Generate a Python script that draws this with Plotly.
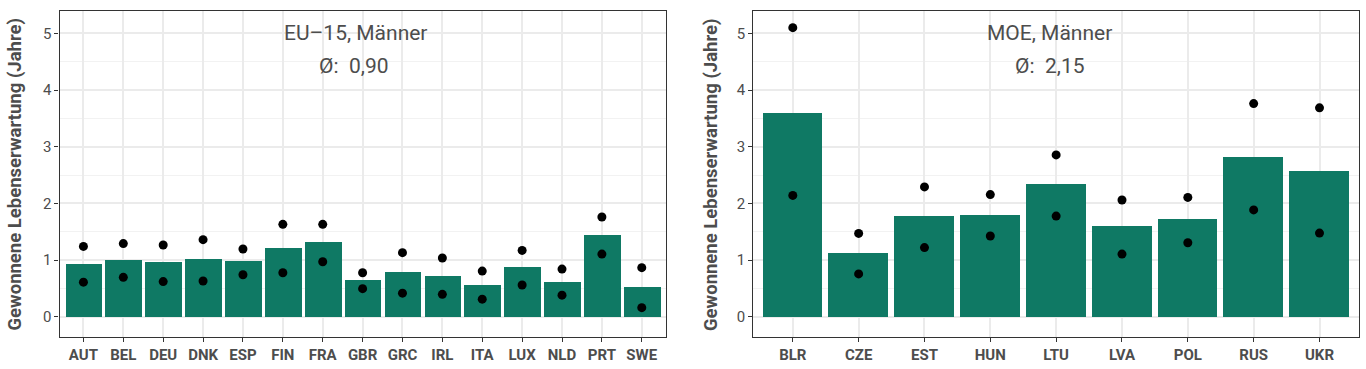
import plotly.graph_objects as go

# ---- data ----
eu_countries = ["AUT", "BEL", "DEU", "DNK", "ESP", "FIN", "FRA", "GBR",
                "GRC", "IRL", "ITA", "LUX", "NLD", "PRT", "SWE"]
eu_bar = [0.93, 1.00, 0.965, 1.02, 0.985, 1.21, 1.32, 0.65,
          0.79, 0.72, 0.56, 0.88, 0.61, 1.44, 0.525]
eu_high = [1.24, 1.29, 1.265, 1.36, 1.195, 1.63, 1.63, 0.775,
           1.13, 1.035, 0.805, 1.17, 0.84, 1.76, 0.865]
eu_low = [0.61, 0.695, 0.62, 0.63, 0.74, 0.775, 0.97, 0.495,
          0.415, 0.395, 0.31, 0.56, 0.38, 1.105, 0.16]
eu_title = "EU\u201315, M\u00e4nner"
eu_avg = "\u00d8:\u00a0\u00a00,90"

moe_countries = ["BLR", "CZE", "EST", "HUN", "LTU", "LVA", "POL", "RUS", "UKR"]
moe_bar = [3.595, 1.125, 1.775, 1.795, 2.34, 1.60, 1.725, 2.82, 2.57]
moe_high = [5.10, 1.47, 2.29, 2.155, 2.855, 2.06, 2.105, 3.76, 3.685]
moe_low = [2.14, 0.755, 1.22, 1.425, 1.775, 1.105, 1.305, 1.885, 1.475]
moe_title = "MOE, M\u00e4nner"
moe_avg = "\u00d8:\u00a0\u00a02,15"

y_title = "Gewonnene Lebenserwartung (Jahre)"

# ---- style ----
W, H = 1366, 369
BAR = "#0f7964"
FONT = "Roboto, 'Noto Sans', sans-serif"
TXT = "#4d4d4d"


def px_x(p):
    return p / W


def px_y(p):
    return 1 - p / H


fig = go.Figure()

panels = [
    (eu_countries, eu_bar, eu_high, eu_low, "x", "y", 0.92),
    (moe_countries, moe_bar, moe_high, moe_low, "x2", "y2", 0.91),
]
for cats, bars, hi, lo, xa, ya, bw in panels:
    fig.add_trace(go.Bar(x=cats, y=bars, marker=dict(color=BAR, line=dict(width=0)),
                         width=bw, xaxis=xa, yaxis=ya, showlegend=False))
    fig.add_trace(go.Scatter(x=cats, y=hi, mode="markers",
                             marker=dict(color="black", size=9),
                             xaxis=xa, yaxis=ya, showlegend=False))
    fig.add_trace(go.Scatter(x=cats, y=lo, mode="markers",
                             marker=dict(color="black", size=9),
                             xaxis=xa, yaxis=ya, showlegend=False))

ydom = [px_y(337), px_y(11)]
yrange = [-0.358, 5.394]

common_x = dict(
    type="category", showgrid=True, gridcolor="#ebebeb", gridwidth=1.5,
    showline=True, mirror=True, linecolor="#333333", linewidth=1.1,
    ticks="outside", ticklen=4, tickcolor="#333333", tickwidth=1.1,
    tickfont=dict(family=FONT, size=15, color=TXT, weight="bold"),
    zeroline=False, fixedrange=True,
)
common_y = dict(
    range=yrange, domain=ydom, tickvals=[0, 1, 2, 3, 4, 5],
    showgrid=True, gridcolor="#ebebeb", gridwidth=1.5,
    minor=dict(dtick=0.5, tick0=0, showgrid=True, gridcolor="#f2f2f2", gridwidth=1, ticks=""),
    showline=True, mirror=True, linecolor="#333333", linewidth=1.1,
    ticks="outside", ticklen=4, tickcolor="#333333", tickwidth=1.1,
    tickfont=dict(family=FONT, size=15, color=TXT),
    zeroline=False, fixedrange=True,
)

fig.update_layout(
    width=W, height=H,
    margin=dict(l=0, r=0, t=0, b=0),
    paper_bgcolor="white", plot_bgcolor="white",
    bargap=0,
    xaxis=dict(domain=[px_x(59.5), px_x(665.7)], range=[-0.6, 14.6], anchor="y", **common_x),
    yaxis=dict(anchor="x", **common_y),
    xaxis2=dict(domain=[px_x(753.3), px_x(1359)], range=[-0.6, 8.6], anchor="y2", **common_x),
    yaxis2=dict(anchor="x2", **common_y),
)

annots = [
    (355, 33, eu_title), (354, 66, eu_avg),
    (1049, 33, moe_title), (1050, 66, moe_avg),
]
for xp, yp, t in annots:
    fig.add_annotation(x=px_x(xp), y=px_y(yp), xref="paper", yref="paper",
                       text=t, showarrow=False, xanchor="center", yanchor="middle",
                       font=dict(family=FONT, size=21, color=TXT))

for xp in (14.5, 711):
    fig.add_annotation(x=px_x(xp), y=px_y(174), xref="paper", yref="paper",
                       text=y_title, textangle=-90, showarrow=False,
                       xanchor="center", yanchor="middle",
                       font=dict(family=FONT, size=18.5, color=TXT, weight="bold"))

fig.write_html("out.html", config={"displayModeBar": False},
               post_script="document.body.style.margin='0';document.body.style.overflow='hidden';")
